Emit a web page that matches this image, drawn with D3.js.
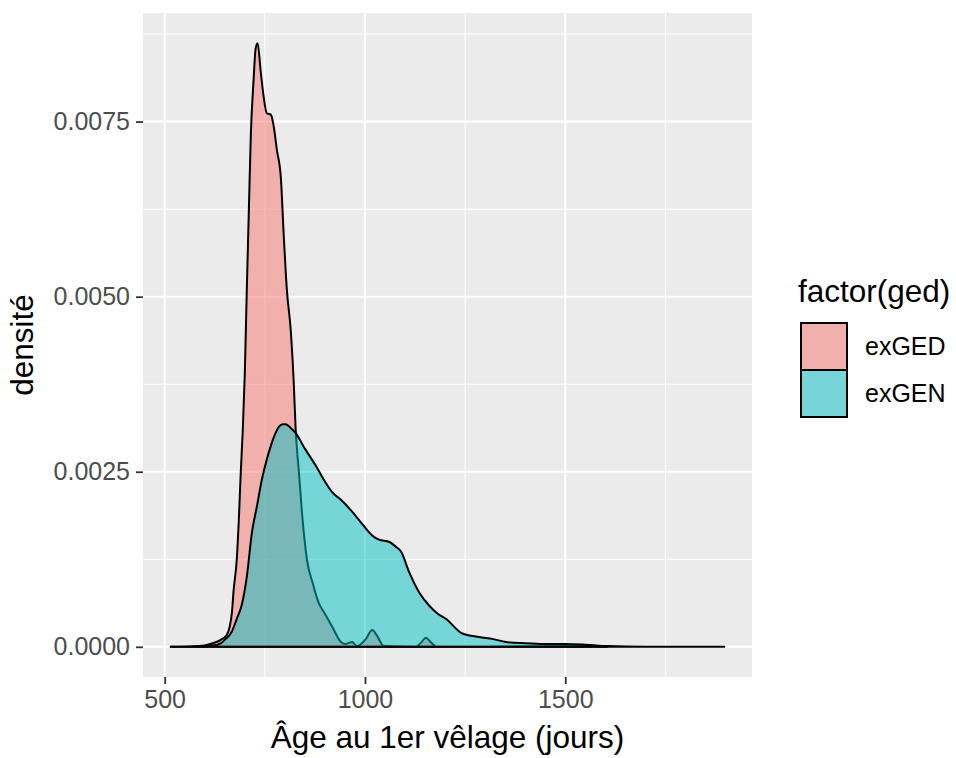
<!DOCTYPE html>
<html>
<head>
<meta charset="utf-8">
<script src="https://cdn.jsdelivr.net/npm/d3@7"></script>
<style>
  html, body { margin: 0; padding: 0; background: #ffffff; }
  svg { display: block; font-family: "Liberation Sans", Arial, sans-serif; }
</style>
</head>
<body>
<svg id="chart" width="956" height="758"></svg>
<script>
// ---- data ----
const groups = ["exGED", "exGEN"];
const groupColors = ["#F8766D", "#00BFC4"];

const exGED_x = [515, 560, 600, 620, 640, 655, 662, 668, 672, 680, 685, 690, 695, 700, 705, 710, 715, 722, 727, 732, 740, 747, 755, 765, 772, 780, 790, 797, 805, 815, 822, 827, 835, 843, 855, 870, 885, 897, 918, 940, 952, 968, 980, 1002, 1018, 1030, 1047, 1127, 1140, 1152, 1165, 1180, 1300, 1500, 1550, 1605];
const exGED_y = [0, 0.000005, 0.00002, 0.00005, 0.0001, 0.00017, 0.00028, 0.0005, 0.0008, 0.00125, 0.0018, 0.0025, 0.0031, 0.0039, 0.0051, 0.0062, 0.0073, 0.0081, 0.00854, 0.00862, 0.0082, 0.00786, 0.00762, 0.0076, 0.00744, 0.0071, 0.0067, 0.0059, 0.0051, 0.0045, 0.0038, 0.0031, 0.0025, 0.0019, 0.00125, 0.0009, 0.00062, 0.0005, 0.00029, 0.00007, 0.00004, 0.00007, 0.00001, 0.00011, 0.00024, 0.00016, 0.00001, 0, 0.00006, 0.00013, 0.00006, 0, 0, 0.00001, 0.00002, 0];

const exGEN_x = [515, 580, 620, 640, 650, 667, 680, 692, 705, 718, 730, 743, 755, 765, 775, 785, 795, 802, 812, 827, 850, 877, 900, 918, 940, 968, 995, 1018, 1035, 1060, 1077, 1090, 1110, 1135, 1160, 1180, 1202, 1243, 1285, 1320, 1352, 1400, 1450, 1500, 1550, 1605, 1700, 1897];
const exGEN_y = [0, 0.000005, 0.00002, 0.00005, 0.0001, 0.00021, 0.0004, 0.00059, 0.001, 0.00164, 0.002, 0.0024, 0.00268, 0.00287, 0.00303, 0.00314, 0.00318, 0.00318, 0.00314, 0.00305, 0.00283, 0.00259, 0.00236, 0.00221, 0.0021, 0.00193, 0.00174, 0.00159, 0.00153, 0.0015, 0.00143, 0.00136, 0.00107, 0.00078, 0.00059, 0.00048, 0.0004, 0.00019, 0.00014, 0.00011, 0.00007, 0.00005, 0.00004, 0.00004, 0.00003, 0.00001, 0, 0];

const xTicks = [500, 1000, 1500];
const xMinor = [750, 1250, 1750];
const yTicks = [0, 0.0025, 0.005, 0.0075];
const yTickLabels = ["0.0000", "0.0025", "0.0050", "0.0075"];
const yMinor = [0.00125, 0.00375, 0.00625, 0.00875];

const xTitle = "Âge au 1er vêlage (jours)";
const yTitle = "densité";
const legendTitle = "factor(ged)";

// ---- layout ----
const panel = { left: 143, top: 13, right: 752, bottom: 677 };
const svg = d3.select("#chart");

const xMin = 515, xMax = 1897;
const xPad = (xMax - xMin) * 0.05;
const yMaxData = 0.00862;
const x = d3.scaleLinear().domain([xMin - xPad, xMax + xPad]).range([panel.left, panel.right]);
const y = d3.scaleLinear().domain([-yMaxData * 0.05, yMaxData * 1.05]).range([panel.bottom, panel.top]);

// panel background
svg.append("rect")
  .attr("x", panel.left).attr("y", panel.top)
  .attr("width", panel.right - panel.left).attr("height", panel.bottom - panel.top)
  .attr("fill", "#EBEBEB");

const grid = svg.append("g");
// minor grid
grid.selectAll(".xminor").data(xMinor).enter().append("line")
  .attr("x1", d => x(d)).attr("x2", d => x(d))
  .attr("y1", panel.top).attr("y2", panel.bottom)
  .attr("stroke", "#ffffff").attr("stroke-width", 1);
grid.selectAll(".yminor").data(yMinor).enter().append("line")
  .attr("y1", d => y(d)).attr("y2", d => y(d))
  .attr("x1", panel.left).attr("x2", panel.right)
  .attr("stroke", "#ffffff").attr("stroke-width", 1);
// major grid
grid.selectAll(".xmajor").data(xTicks).enter().append("line")
  .attr("x1", d => x(d)).attr("x2", d => x(d))
  .attr("y1", panel.top).attr("y2", panel.bottom)
  .attr("stroke", "#ffffff").attr("stroke-width", 2);
grid.selectAll(".ymajor").data(yTicks).enter().append("line")
  .attr("y1", d => y(d)).attr("y2", d => y(d))
  .attr("x1", panel.left).attr("x2", panel.right)
  .attr("stroke", "#ffffff").attr("stroke-width", 2);

// densities
const series = [
  { name: groups[0], color: groupColors[0], xs: exGED_x, ys: exGED_y },
  { name: groups[1], color: groupColors[1], xs: exGEN_x, ys: exGEN_y }
];
const area = d3.area().x(d => x(d[0])).y0(y(0)).y1(d => y(d[1])).curve(d3.curveMonotoneX);
series.forEach(s => {
  const pts = s.xs.map((v, i) => [v, s.ys[i]]);
  svg.append("path")
    .datum(pts)
    .attr("d", area)
    .attr("fill", s.color).attr("fill-opacity", 0.5)
    .attr("stroke", "#000000").attr("stroke-width", 2)
    .attr("stroke-linejoin", "round");
});

// axes
const xAxis = d3.axisBottom(x).tickValues(xTicks).tickSize(7).tickPadding(6).tickFormat(d3.format("d"));
const gx = svg.append("g").attr("transform", `translate(0,${panel.bottom})`).call(xAxis);
gx.select(".domain").remove();
gx.selectAll(".tick line").attr("stroke", "#333333").attr("stroke-width", 1.8);
gx.selectAll(".tick text").attr("fill", "#4D4D4D").attr("font-size", 25)
  .attr("font-family", "Liberation Sans, Arial, sans-serif");

const yAxis = d3.axisLeft(y).tickValues(yTicks).tickSize(7).tickPadding(6)
  .tickFormat((d, i) => yTickLabels[i]);
const gy = svg.append("g").attr("transform", `translate(${panel.left},0)`).call(yAxis);
gy.select(".domain").remove();
gy.selectAll(".tick line").attr("stroke", "#333333").attr("stroke-width", 1.8);
gy.selectAll(".tick text").attr("fill", "#4D4D4D").attr("font-size", 25)
  .attr("font-family", "Liberation Sans, Arial, sans-serif");

// axis titles
svg.append("text")
  .attr("x", (panel.left + panel.right) / 2).attr("y", 748)
  .attr("text-anchor", "middle").attr("font-size", 31.5).attr("fill", "#000")
  .text(xTitle);
svg.append("text")
  .attr("transform", `translate(33,${(panel.top + panel.bottom) / 2}) rotate(-90)`)
  .attr("text-anchor", "middle").attr("font-size", 31.5).attr("fill", "#000")
  .text(yTitle);

// legend
const lg = svg.append("g");
lg.append("text").attr("x", 798).attr("y", 302).attr("font-size", 31.5).attr("fill", "#000").text(legendTitle);
const keyX = 801, keyW = 46, keyH = 47, keyTop = 323;
groups.forEach((g, i) => {
  const ky = keyTop + i * keyH;
  lg.append("rect").attr("x", keyX).attr("y", ky).attr("width", keyW).attr("height", keyH).attr("fill", "#EBEBEB");
  lg.append("rect").attr("x", keyX).attr("y", ky).attr("width", keyW).attr("height", keyH)
    .attr("fill", groupColors[i]).attr("fill-opacity", 0.5)
    .attr("stroke", "#000").attr("stroke-width", 2);
  lg.append("text").attr("x", 865).attr("y", ky + keyH / 2)
    .attr("dy", "0.35em").attr("font-size", 25).attr("fill", "#000").text(g);
});
</script>
</body>
</html>
